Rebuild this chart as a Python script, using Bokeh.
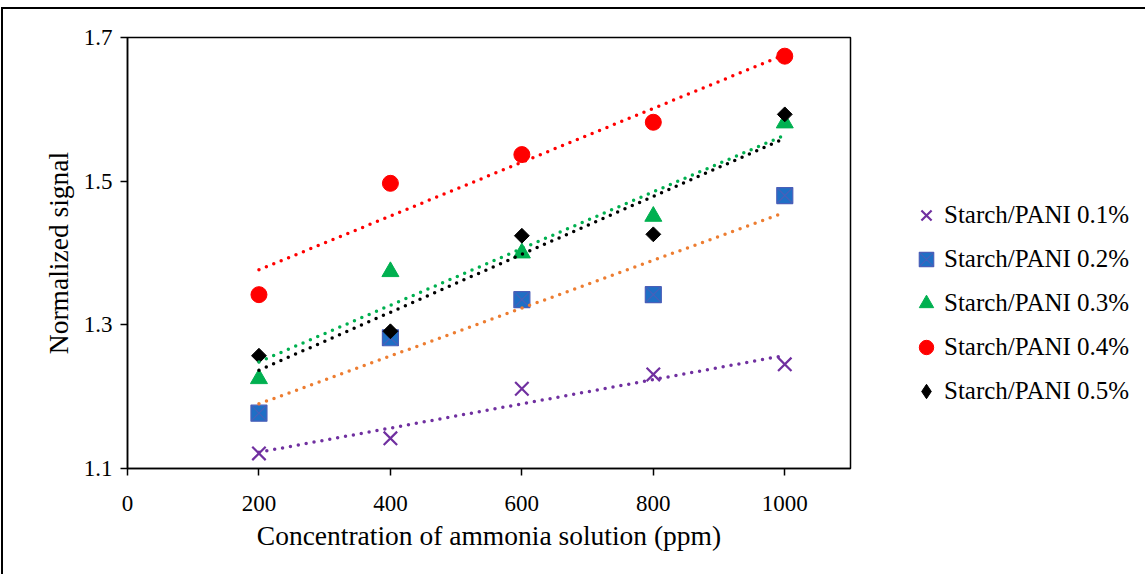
import numpy as np
from bokeh.plotting import figure
from bokeh.models import Legend, LegendItem, FixedTicker, Range1d
from bokeh.embed import file_html
from bokeh.resources import INLINE

# ---- data ----
conc = [200, 400, 600, 800, 1000]
series_names = ["Starch/PANI 0.1%", "Starch/PANI 0.2%", "Starch/PANI 0.3%",
                "Starch/PANI 0.4%", "Starch/PANI 0.5%"]
pani_01 = [1.121, 1.142, 1.211, 1.231, 1.245]
pani_02 = [1.177, 1.282, 1.335, 1.342, 1.480]
pani_03 = [1.225, 1.374, 1.400, 1.451, 1.581]
pani_04 = [1.342, 1.497, 1.537, 1.582, 1.674]
pani_05 = [1.257, 1.291, 1.424, 1.426, 1.593]
x_ticks = [0, 200, 400, 600, 800, 1000]
y_ticks = [1.1, 1.3, 1.5, 1.7]

# ---- styles ----
FONT = "Liberation Serif"
styles = [
    dict(marker="x", fill="#7030A0", line="#7030A0", lw=2.2, size=19, angle=0, trend="#7030A0"),
    dict(marker="square_x", fill="#1F6FC5", line="#4A5FB8", lw=1.2, size=16, angle=0, trend="#ED7D31"),
    dict(marker="triangle", fill="#00B050", line="#00B050", lw=1, size=17, angle=0, trend="#00B050"),
    dict(marker="circle", fill="#FF0000", line="#FF0000", lw=1, size=16, angle=0, trend="#FF0000"),
    dict(marker="square", fill="#000000", line="#000000", lw=1, size=10.5, angle=np.pi / 4, trend="#000000"),
]
data = [pani_01, pani_02, pani_03, pani_04, pani_05]

p = figure(frame_width=723, frame_height=431, output_backend="svg", toolbar_location=None,
           x_range=Range1d(0, 1100), y_range=Range1d(1.1, 1.7),
           min_border_left=124, min_border_right=0, min_border_top=28,
           min_border_bottom=106)
p.styles = {"border-top": "2px solid #000", "border-left": "2px solid #000",
            "margin-top": "7px", "margin-left": "1px"}
p.xgrid.visible = False
p.ygrid.visible = False
p.outline_line_color = "#000000"
p.outline_line_width = 1.5
p.background_fill_color = "white"
p.border_fill_color = "white"

for ax in (p.xaxis[0], p.yaxis[0]):
    ax.axis_line_color = "#000000"
    ax.axis_line_width = 1.5
    ax.major_tick_line_color = "#000000"
    ax.major_tick_line_width = 1.5
    ax.major_tick_out = 7
    ax.major_tick_in = 0
    ax.minor_tick_line_color = None
    ax.major_label_text_font = FONT
    ax.major_label_text_font_size = "23px"
    ax.major_label_text_color = "#000000"
    ax.axis_label_text_font = FONT
    ax.axis_label_text_font_size = "27.5px"
    ax.axis_label_text_font_style = "normal"
    ax.axis_label_text_color = "#000000"

p.xaxis.ticker = FixedTicker(ticks=x_ticks)
p.yaxis.ticker = FixedTicker(ticks=y_ticks)
p.yaxis.formatter.use_scientific = False
p.xaxis.axis_label = "Concentration of ammonia solution (ppm)"
p.yaxis.axis_label = "Normalized signal"
p.xaxis.major_label_standoff = 20
p.yaxis.major_label_standoff = 8
p.xaxis.axis_label_standoff = 6
p.yaxis.axis_label_standoff = 7

items = []
for name, ys, st in zip(series_names, data, styles):
    r = p.scatter(conc, ys, marker=st["marker"], size=st["size"], angle=st["angle"],
                  fill_color=st["fill"], line_color=st["line"], line_width=st["lw"])
    if st["angle"] != 0:
        # legend swatch: a diamond hidden inside the rotated square markers
        r = p.scatter(conc, ys, marker="diamond", size=8,
                      fill_color=st["fill"], line_color=st["line"], line_width=st["lw"])
    items.append(LegendItem(label=name, renderers=[r]))

xs = np.array(conc, dtype=float)
for ys, st in zip(data, styles):
    k, b = np.polyfit(xs, np.array(ys), 1)
    p.line([xs[0], xs[-1]], [k * xs[0] + b, k * xs[-1] + b], line_color=st["trend"],
           line_width=3.5, line_dash="0 8", line_cap="round")

legend = Legend(items=items, location=(58, 59), orientation="vertical",
                label_text_font=FONT, label_text_font_size="25px",
                label_text_color="#000000",
                glyph_width=36, glyph_height=36, label_height=36,
                spacing=8, padding=0, margin=0, label_standoff=-4,
                border_line_color=None, background_fill_alpha=0)
p.add_layout(legend, "right")

open("out.html", "w").write(file_html(p, INLINE))
